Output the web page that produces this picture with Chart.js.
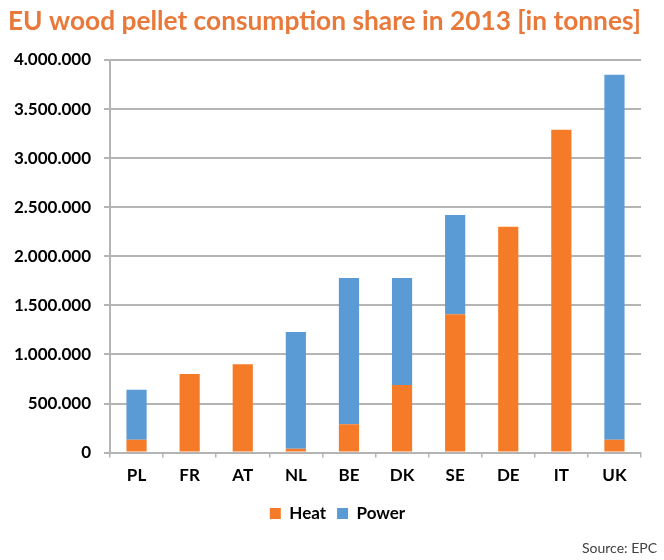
<!DOCTYPE html>
<html>
<head>
<meta charset="utf-8">
<script src="https://cdn.jsdelivr.net/npm/chart.js@4/dist/chart.umd.min.js"></script>
<style>
  html, body { margin: 0; padding: 0; background: #fff; }
  #wrap { width: 664px; height: 560px; }
</style>
</head>
<body>
<div id="wrap"><canvas id="chart" width="664" height="560"></canvas></div>
<script>
'use strict';

// values (tonnes)
const countries = ['PL', 'FR', 'AT', 'NL', 'BE', 'DK', 'SE', 'DE', 'IT', 'UK'];
const heatValues = [130000, 800000, 900000, 40000, 290000, 690000, 1410000, 2300000, 3290000, 130000];
const powerValues = [510000, 0, 0, 1190000, 1490000, 1090000, 1010000, 0, 0, 3720000];
const yMax = 4000000;
const yStep = 500000;
const sourceText = 'Source: EPC';

const orange = '#F67B28';
const blue = '#5B9BD5';
const gridGray = '#B4B4B4';

function dotted(v) {
  return String(v).replace(/\B(?=(\d{3})+(?!\d))/g, '.');
}

// source note in the bottom right corner + nudge the legend a bit right
const extras = {
  id: 'extras',
  afterLayout(chart) {
    chart.legend.left += 13;
    chart.legend.right += 13;
  },
  afterDraw(chart) {
    const ctx = chart.ctx;
    ctx.save();
    ctx.font = '14px Lato';
    ctx.fillStyle = '#404040';
    ctx.textAlign = 'right';
    ctx.textBaseline = 'middle';
    ctx.fillText(sourceText, 657, 548);
    ctx.restore();
  }
};

let canvasElem = document.getElementById('chart');

const data = {
  labels: countries,
  datasets: [
    {
      label: 'Heat',
      data: heatValues,
      backgroundColor: orange,
      borderWidth: 0,
    },
    {
      label: 'Power',
      data: powerValues,
      backgroundColor: blue,
      borderWidth: 0,
    }
  ]
};

const config = {
  type: 'bar',
  data: data,
  plugins: [extras],
  options: {
    responsive: false,
    animation: false,
    devicePixelRatio: 1,
    layout: { padding: { left: 8, right: 23, top: 0, bottom: 28 } },
    datasets: {
      bar: { categoryPercentage: 1, barPercentage: 0.38 }
    },
    plugins: {
      tooltip: { enabled: false },
      title: {
        display: true,
        text: 'EU wood pellet consumption share in 2013 [in tonnes]',
        align: 'start',
        color: '#E8793B',
        font: { family: 'Lato', size: 27.5, weight: 'bold' },
        padding: { top: 5, bottom: 22 }
      },
      legend: {
        position: 'bottom',
        labels: {
          boxWidth: 11,
          boxHeight: 11,
          padding: 11,
          color: '#000',
          font: { family: 'Lato', size: 17, weight: 'bold' }
        }
      }
    },
    scales: {
      x: {
        stacked: true,
        grid: {
          drawOnChartArea: false,
          drawTicks: true,
          tickLength: 5,
          color: gridGray,
          lineWidth: 1.5
        },
        border: { display: true, color: gridGray, width: 2 },
        ticks: {
          color: '#000',
          padding: 8,
          font: { family: 'Lato', size: 17, weight: 'bold' }
        }
      },
      y: {
        stacked: true,
        min: 0,
        max: yMax,
        afterFit(scale) { scale.width = 102; },
        grid: {
          color: gridGray,
          lineWidth: 2,
          tickLength: 6
        },
        border: { display: true, color: gridGray, width: 2 },
        ticks: {
          stepSize: yStep,
          color: '#000',
          padding: 13,
          font: { family: 'Lato', size: 17, weight: 'bold' },
          callback: (v) => dotted(v)
        }
      }
    }
  }
};

const myChart = new Chart(canvasElem, config);
</script>
</body>
</html>
